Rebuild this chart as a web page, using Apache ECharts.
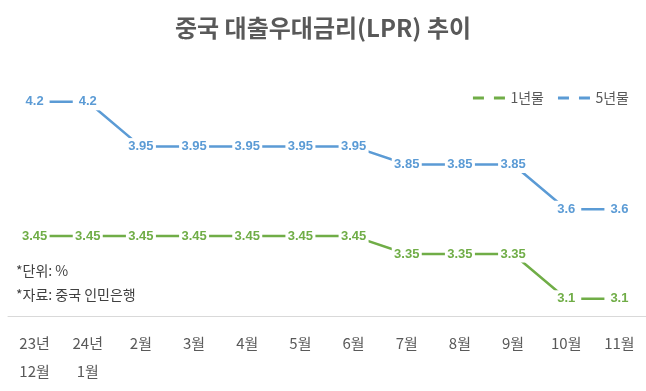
<!DOCTYPE html>
<html>
<head>
<meta charset="utf-8">
<script src="https://cdn.jsdelivr.net/npm/echarts@6/dist/echarts.min.js"></script>
<style>html,body{margin:0;padding:0;background:#fff}#c{width:646px;height:391px}</style>
</head>
<body>
<div id="c"></div>
<script>
const categories = ['23년\n12월', '24년\n1월', '2월', '3월', '4월', '5월', '6월', '7월', '8월', '9월', '10월', '11월'];
const oneYear = [3.45, 3.45, 3.45, 3.45, 3.45, 3.45, 3.45, 3.35, 3.35, 3.35, 3.1, 3.1];
const fiveYear = [4.2, 4.2, 3.95, 3.95, 3.95, 3.95, 3.95, 3.85, 3.85, 3.85, 3.6, 3.6];
const seriesNames = ['1년물', '5년물'];
const titleText = '중국 대출우대금리(LPR) 추이';
const notes = ['*단위: %', '*자료: 중국 인민은행'];

const GREEN = '#70AD47', BLUE = '#5B9BD5';
const KFONT = '"Noto Sans CJK KR", "Noto Sans", sans-serif';

function mkSeries(name, data, color) {
  return {
    name: name, type: 'line', data: data,
    symbol: 'circle', symbolSize: 1, showSymbol: true,
    itemStyle: { color: color },
    lineStyle: { color: color, width: 2.5 },
    label: {
      show: true, position: 'inside', color: color,
      fontFamily: '"Liberation Sans", Arial, sans-serif', fontWeight: 'bold', fontSize: 13,
      backgroundColor: '#fff', width: 30, height: 17, lineHeight: 17, align: 'center',
      verticalAlign: 'middle'
    },
    emphasis: { disabled: true },
    animation: false
  };
}

const chart = echarts.init(document.getElementById('c'));
chart.setOption({
  backgroundColor: '#fff',
  animation: false,
  title: {
    text: titleText, left: 'center', top: 11,
    textStyle: { fontFamily: KFONT, fontSize: 24, fontWeight: 'bold', color: '#595959' }
  },
  legend: {
    data: seriesNames, right: 12, top: 86,
    icon: 'path://M0,0h11v3h-11z M21,0h11v3h-11z',
    itemWidth: 33, itemHeight: 3, itemGap: 14,
    textStyle: { fontFamily: KFONT, fontSize: 14, color: '#595959' }
  },
  grid: { left: 8, right: -6, top: 66, bottom: 74.3 },
  xAxis: {
    type: 'category', data: categories, boundaryGap: true,
    axisLine: { lineStyle: { color: '#D9D9D9', width: 1 } },
    axisTick: { show: false },
    axisLabel: {
      interval: 0, margin: 12, fontFamily: KFONT, fontSize: 15, color: '#595959',
      lineHeight: 28.5
    }
  },
  yAxis: {
    type: 'value', min: 3, max: 4.4, show: false,
    splitLine: { show: false }
  },
  graphic: [
    { type: 'text', left: 16, top: 264, style: { text: notes[0], font: '14px ' + KFONT, fill: '#404040' } },
    { type: 'text', left: 16, top: 288, style: { text: notes[1], font: '14px ' + KFONT, fill: '#404040' } }
  ],
  series: [mkSeries(seriesNames[0], oneYear, GREEN), mkSeries(seriesNames[1], fiveYear, BLUE)]
});
</script>
</body>
</html>
